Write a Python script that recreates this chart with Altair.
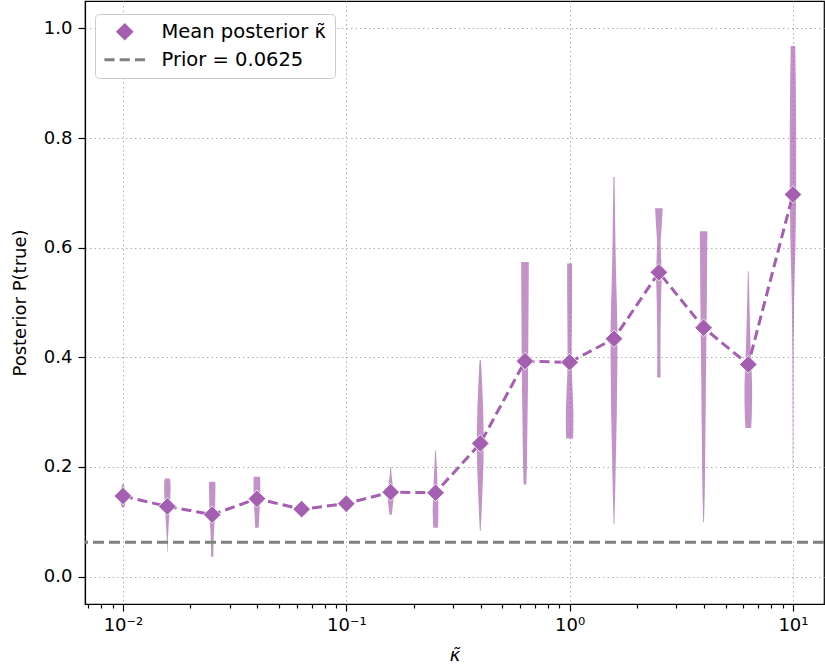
import altair as alt
import pandas as pd
import numpy as np

# ---------------- data ----------------
kappa = [0.01, 0.0158, 0.0251, 0.0398, 0.0631, 0.1, 0.158, 0.251,
         0.398, 0.631, 1.0, 1.58, 2.51, 3.98, 6.31, 10.0]
mean_post = [0.147, 0.128, 0.113, 0.142, 0.123, 0.133, 0.154, 0.153,
             0.243, 0.393, 0.391, 0.434, 0.555, 0.454, 0.387, 0.697]
prior = 0.0625

# violin profiles: posterior values (bottom -> top) and relative density
violin_y = [
    [0.126, 0.135, 0.147, 0.160, 0.169],
    [0.044, 0.07, 0.10, 0.13, 0.16, 0.175, 0.179],
    [0.036, 0.05, 0.08, 0.11, 0.14, 0.165, 0.173],
    [0.089, 0.11, 0.14, 0.165, 0.182],
    [0.112, 0.12, 0.128, 0.135],
    [0.118, 0.128, 0.138, 0.148],
    [0.113, 0.125, 0.14, 0.155, 0.17, 0.185, 0.2],
    [0.089, 0.10, 0.12, 0.15, 0.18, 0.21, 0.23],
    [0.083, 0.11, 0.16, 0.21, 0.26, 0.31, 0.35, 0.38, 0.395],
    [0.168, 0.2, 0.25, 0.3, 0.35, 0.4, 0.45, 0.5, 0.55, 0.574],
    [0.252, 0.27, 0.3, 0.33, 0.37, 0.42, 0.47, 0.52, 0.571],
    [0.095, 0.15, 0.2, 0.3, 0.4, 0.45, 0.5, 0.55, 0.6, 0.65, 0.729],
    [0.363, 0.4, 0.45, 0.5, 0.55, 0.58, 0.61, 0.64, 0.672],
    [0.099, 0.15, 0.2, 0.25, 0.3, 0.35, 0.4, 0.45, 0.5, 0.55, 0.6, 0.63],
    [0.271, 0.29, 0.32, 0.35, 0.38, 0.42, 0.46, 0.5, 0.53, 0.557],
    [0.201, 0.3, 0.4, 0.5, 0.55, 0.6, 0.7, 0.8, 0.9, 0.968],
]
violin_d = [
    [0.3, 0.7, 0.8, 0.5, 0.15],
    [0.05, 0.15, 0.4, 0.7, 0.85, 0.8, 0.6],
    [0.3, 0.3, 0.45, 0.7, 0.8, 0.85, 0.8],
    [0.45, 0.6, 0.85, 0.9, 0.85],
    [0.3, 0.7, 0.6, 0.2],
    [0.3, 0.6, 0.6, 0.2],
    [0.3, 0.5, 0.75, 0.8, 0.5, 0.25, 0.1],
    [0.6, 0.7, 0.75, 0.65, 0.45, 0.25, 0.1],
    [0.1, 0.3, 0.6, 0.85, 0.9, 0.75, 0.5, 0.3, 0.15],
    [0.35, 0.5, 0.6, 0.7, 0.8, 0.85, 0.9, 0.95, 1.0, 1.0],
    [0.9, 1.0, 1.0, 0.85, 0.6, 0.55, 0.6, 0.65, 0.65],
    [0.1, 0.3, 0.45, 0.75, 0.9, 0.9, 0.75, 0.55, 0.4, 0.3, 0.15],
    [0.45, 0.4, 0.45, 0.55, 0.75, 0.6, 0.45, 0.75, 1.0],
    [0.1, 0.3, 0.4, 0.45, 0.55, 0.6, 0.7, 0.75, 0.85, 0.9, 0.95, 1.0],
    [0.75, 0.9, 1.0, 1.0, 0.85, 0.6, 0.45, 0.3, 0.2, 0.1],
    [0.05, 0.1, 0.15, 0.3, 0.45, 0.65, 0.85, 0.85, 0.75, 0.6],
]

major_ticks = [0.01, 0.1, 1, 10]
minor_ticks = [m * 10.0 ** e for e in (-3, -2, -1, 0, 1) for m in range(2, 10)]
y_ticks = [0.0, 0.2, 0.4, 0.6, 0.8, 1.0]

# ---------------- layout / style ----------------
W, H = 739, 603
X_DOM = [10 ** -2.170, 10 ** 1.139]
Y_DOM = [-0.05, 1.05]
PX_PER_DEC = W / (np.log10(X_DOM[1]) - np.log10(X_DOM[0]))
HALF_W_PX = 3.8
PURPLE = "#a55fb0"
GRAY = "#808080"
FONT = "DejaVu Sans"
LBL_MEAN = "Mean posterior κ̃"
LBL_PRIOR = "Prior = 0.0625"

rows = []
for i, (pos, ys, ds) in enumerate(zip(kappa, violin_y, violin_d)):
    for y, d in zip(ys, ds):
        f = 10 ** (d * HALF_W_PX / PX_PER_DEC)
        rows.append({"violin": i, "y": y, "xl": pos / f, "xr": pos * f})
vdf = pd.DataFrame(rows)

mdf = pd.DataFrame({"kappa": kappa, "mean": mean_post, "series": LBL_MEAN})

x_scale = alt.Scale(type="log", domain=X_DOM, nice=False, clamp=False)
y_scale = alt.Scale(domain=Y_DOM, nice=False, zero=False)

is_major = "abs(log(datum.value)/LN10 - round(log(datum.value)/LN10)) < 0.001"
x_axis = alt.Axis(
    values=sorted(major_ticks + minor_ticks),
    labelExpr=("datum.value == 0.01 ? '10⁻²' : datum.value == 0.1 ? '10⁻¹' : "
               "datum.value == 1 ? '10⁰' : datum.value == 10 ? '10¹' : ''"),
    tickSize={"condition": {"test": is_major, "value": 7}, "value": 4},
    gridOpacity={"condition": {"test": is_major, "value": 1}, "value": 0},
    title="κ̃",
    titleFontStyle="italic",
    labelPadding=5,
    titlePadding=12,
    labelFlush=False,
    labelOverlap=False,
)
y_axis = alt.Axis(values=y_ticks, format=".1f", title="Posterior P(true)",
                  tickSize=7, labelPadding=6, titlePadding=14)

base_x = alt.X("xl:Q", scale=x_scale, axis=x_axis)

violins = alt.Chart(vdf).mark_area(
    orient="horizontal", color=PURPLE, opacity=0.68
).encode(
    y=alt.Y("y:Q", scale=y_scale, axis=y_axis),
    x=base_x,
    x2="xr:Q",
    detail="violin:N",
)

line = alt.Chart(mdf).mark_line(
    color=PURPLE, strokeWidth=3, strokeDash=[10, 5]
).encode(
    x=alt.X("kappa:Q", scale=x_scale),
    y=alt.Y("mean:Q", scale=y_scale),
)

dash_path = ("M-2.31,-0.17H-1.155V0.17H-2.31Z "
             "M-0.577,-0.17H0.577V0.17H-0.577Z "
             "M1.155,-0.17H2.31V0.17H1.155Z")

legend = alt.Legend(
    title=None, orient="none", legendX=10, legendY=13,
    padding=8, fillColor="white", strokeColor="#cccccc", cornerRadius=4,
    labelFont=FONT, labelFontSize=19.5, labelColor="black", labelLimit=400,
    symbolSize=310, symbolStrokeWidth=0, rowPadding=7,
    symbolOffset=12, labelOffset=27,
)

points = alt.Chart(mdf).mark_point(
    filled=True, size=310, opacity=1, stroke="white", strokeWidth=0.8
).encode(
    x=alt.X("kappa:Q", scale=x_scale),
    y=alt.Y("mean:Q", scale=y_scale),
    color=alt.Color("series:N",
                    scale=alt.Scale(domain=[LBL_MEAN, LBL_PRIOR], range=[PURPLE, GRAY]),
                    legend=legend),
    shape=alt.Shape("series:N",
                    scale=alt.Scale(domain=[LBL_MEAN, LBL_PRIOR], range=["diamond", dash_path]),
                    legend=legend),
)

prior_line = alt.Chart(pd.DataFrame({"prior": [prior]})).mark_rule(
    color=GRAY, strokeWidth=3, strokeDash=[11, 5]
).encode(y=alt.Y("prior:Q", scale=y_scale))

chart = alt.layer(violins, prior_line, line, points).properties(
    width=W, height=H,
    autosize=alt.AutoSizeParams(type="none"),
    padding={"left": 85, "top": 1, "right": 1, "bottom": 67},
).configure_view(
    stroke="black", strokeWidth=1.2
).configure_axis(
    domainColor="black", domainWidth=1.2,
    tickColor="black", tickWidth=1.2,
    labelFont=FONT, labelFontSize=18, labelColor="black",
    titleFont=FONT, titleFontSize=18, titleFontWeight="normal", titleColor="black",
    grid=True, gridColor="#b0b0b0", gridDash=[1.5, 3], gridWidth=1,
)

chart.save("out.html", embed_options={"renderer": "svg", "actions": False})
